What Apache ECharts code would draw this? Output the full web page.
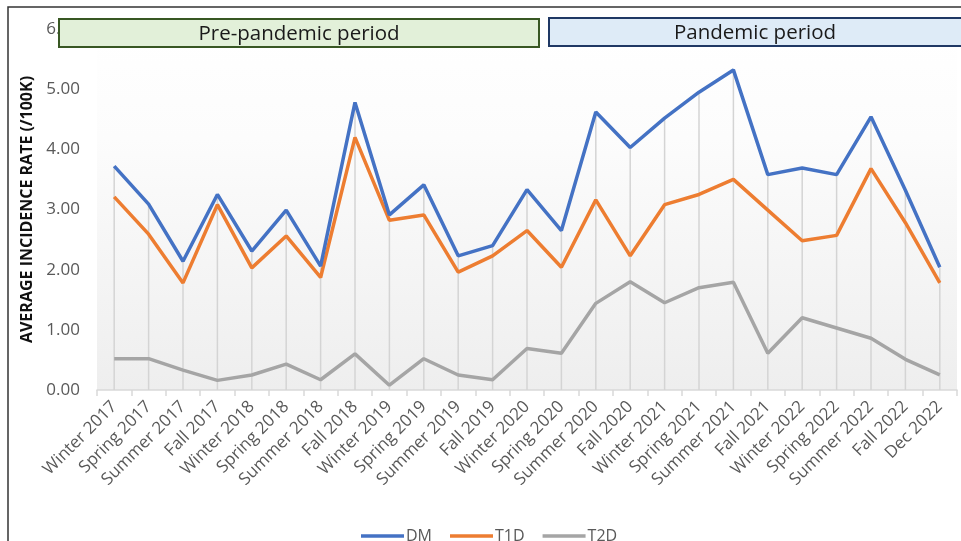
<!DOCTYPE html>
<html><head><meta charset="utf-8">
<script src="https://cdn.jsdelivr.net/npm/echarts@6/dist/echarts.min.js"></script>
<style>html,body{margin:0;padding:0;background:#fff}#c{width:961px;height:541px}</style>
</head><body><div id="c"></div>
<script>
const categories = ['Winter 2017','Spring 2017','Summer 2017','Fall 2017','Winter 2018','Spring 2018','Summer 2018','Fall 2018','Winter 2019','Spring 2019','Summer 2019','Fall 2019','Winter 2020','Spring 2020','Summer 2020','Fall 2020','Winter 2021','Spring 2021','Summer 2021','Fall 2021','Winter 2022','Spring 2022','Summer 2022','Fall 2022','Dec 2022'];
const dm  = [3.72,3.09,2.14,3.25,2.31,2.99,2.06,4.78,2.91,3.41,2.23,2.40,3.33,2.65,4.62,4.03,4.52,4.95,5.32,3.58,3.69,3.58,4.54,3.32,2.04];
const t1d = [3.21,2.59,1.78,3.08,2.03,2.56,1.87,4.20,2.82,2.91,1.96,2.23,2.65,2.04,3.16,2.23,3.08,3.25,3.50,2.99,2.48,2.57,3.68,2.78,1.78];
const t2d = [0.52,0.52,0.33,0.16,0.25,0.43,0.17,0.60,0.08,0.52,0.25,0.17,0.69,0.61,1.44,1.80,1.45,1.70,1.79,0.61,1.20,1.03,0.86,0.51,0.25];
const yMin = 0, yMax = 6, yStep = 1;
const periods = ['Pre-pandemic period','Pandemic period'];
const seriesNames = ['DM','T1D','T2D'];

const FONT = 'Open Sans';
const chart = echarts.init(document.getElementById('c'));
chart.setOption({
  animation: false,
  textStyle: {fontFamily: FONT},
  grid: {
    left: 97, right: 4, top: 29, bottom: 151,
    show: true, borderWidth: 0,
    backgroundColor: new echarts.graphic.LinearGradient(0, 0, 0, 1, [
      {offset: 0, color: '#ffffff'},
      {offset: 0.3, color: '#fcfcfc'},
      {offset: 1, color: '#eeeeee'}
    ])
  },
  legend: {
    data: seriesNames,
    left: 356, top: 523,
    icon: 'rect', itemWidth: 43, itemHeight: 3.5, itemGap: 18,
    textStyle: {fontSize: 16, color: '#595959', fontFamily: FONT, padding: [0, 0, 0, -3]}
  },
  xAxis: {
    type: 'category', data: categories, boundaryGap: true,
    axisLine: {show: true, lineStyle: {color: '#d9d9d9', width: 1.5}},
    axisTick: {show: true, length: 6, lineStyle: {color: '#d9d9d9', width: 1.5}},
    axisLabel: {rotate: 45, interval: 0, fontSize: 17, color: '#595959', margin: 14, fontFamily: FONT},
    splitLine: {show: false}
  },
  yAxis: {
    type: 'value', min: yMin, max: yMax, interval: yStep,
    name: 'AVERAGE INCIDENCE RATE (/100K)', nameLocation: 'middle', nameGap: 61,
    nameTextStyle: {fontSize: 16, fontWeight: 'bold', color: '#111', fontFamily: FONT},
    axisLine: {show: false}, axisTick: {show: false},
    splitLine: {show: false},
    axisLabel: {fontSize: 17, color: '#595959', margin: 17, formatter: v => v.toFixed(2), fontFamily: FONT}
  },
  series: [
    {name: 'drop', type: 'bar', data: dm, barWidth: 1.5, silent: true, z: 1,
     itemStyle: {color: '#d4d4d4'}, legendHoverLink: false},
    {name: 'DM', type: 'line', data: dm, showSymbol: false, symbol: 'none', z: 4,
     lineStyle: {color: '#4472c4', width: 3.5}, itemStyle: {color: '#4472c4'}},
    {name: 'T1D', type: 'line', data: t1d, showSymbol: false, symbol: 'none', z: 3,
     lineStyle: {color: '#ed7d31', width: 3.5}, itemStyle: {color: '#ed7d31'}},
    {name: 'T2D', type: 'line', data: t2d, showSymbol: false, symbol: 'none', z: 2,
     lineStyle: {color: '#a5a5a5', width: 3.5}, itemStyle: {color: '#a5a5a5'}}
  ],
  graphic: [
    {type: 'rect', z: 100, shape: {x: 8, y: 7, width: 1000, height: 600},
     style: {fill: 'none', stroke: '#333', lineWidth: 1.5}},
    {type: 'rect', z: 100, shape: {x: 59, y: 19, width: 480, height: 28},
     style: {fill: '#e2f0d9', stroke: '#385723', lineWidth: 2}},
    {type: 'text', z: 101, x: 299, y: 34,
     style: {text: periods[0], fontSize: 20.5, fontFamily: FONT, fill: '#1a1a1a', align: 'center', verticalAlign: 'middle'}},
    {type: 'rect', z: 100, shape: {x: 549, y: 18, width: 414, height: 28},
     style: {fill: '#deebf7', stroke: '#1f3864', lineWidth: 2}},
    {type: 'text', z: 101, x: 755, y: 33,
     style: {text: periods[1], fontSize: 20.5, fontFamily: FONT, fill: '#1a1a1a', align: 'center', verticalAlign: 'middle'}}
  ]
});
</script></body></html>
